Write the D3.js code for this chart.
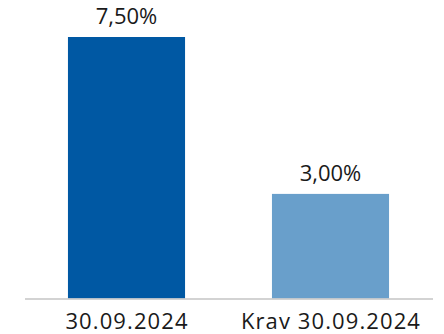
<!DOCTYPE html>
<html>
<head>
<meta charset="utf-8">
<script src="https://cdn.jsdelivr.net/npm/d3@7"></script>
<style>
  body { margin: 0; background: #fff; }
  text { font-family: "Open Sans", sans-serif; fill: #1a1a1a; }
</style>
</head>
<body>
<svg class="chart"></svg>
<script>
// chart data
var categories = ["30.09.2024", "Krav 30.09.2024"];
var values = [7.5, 3.0];
var valueLabels = ["7,50%", "3,00%"];
var colors = ["#0058A3", "#699FCB"];

var width = 444, height = 334;
var baseY = 298.5;

var svg = d3.select(".chart")
  .attr("width", width)
  .attr("height", height);

// x scale
var x = d3.scaleBand()
  .domain(categories)
  .range([24.5, 432.5])
  .paddingInner(0.426)
  .paddingOuter(0.213);

// y scale
var y = d3.scaleLinear()
  .domain([0, 7.5])
  .range([baseY, 37]);

// bars
svg.selectAll(".bar")
  .data(values)
  .enter().append("rect")
  .attr("class", "bar")
  .attr("x", function(d, i) { return x(categories[i]); })
  .attr("y", function(d) { return y(d); })
  .attr("width", x.bandwidth())
  .attr("height", function(d) { return baseY - y(d); })
  .attr("fill", function(d, i) { return colors[i]; });

// baseline axis
var xAxis = d3.axisBottom(x).tickSize(0).tickPadding(15);
var axisG = svg.append("g")
  .attr("transform", "translate(0," + baseY + ")")
  .call(xAxis);
axisG.select(".domain").attr("stroke", "#c4c4c4").attr("stroke-width", 1.3);
axisG.selectAll("text")
  .style("font-family", "Open Sans, sans-serif")
  .style("font-size", "22px")
  .style("letter-spacing", "1.1px")
  .attr("dx", "0.5")
  .attr("fill", "#1a1a1a");

// value labels
svg.selectAll(".value")
  .data(values)
  .enter().append("text")
  .attr("class", "value")
  .attr("x", function(d, i) { return x(categories[i]) + x.bandwidth() / 2; })
  .attr("y", function(d) { return y(d) - 13; })
  .style("text-anchor", "middle")
  .style("font-size", "22px")
  .text(function(d, i) { return valueLabels[i]; });
</script>
</body>
</html>
